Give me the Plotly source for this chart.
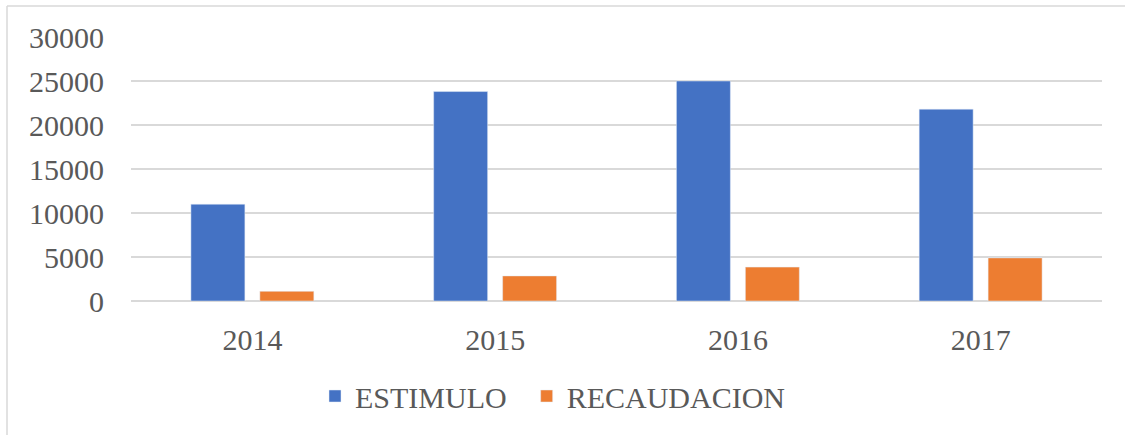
import plotly.graph_objects as go

years = ["2014", "2015", "2016", "2017"]
estimulo = [11000, 23800, 25000, 21800]
recaudacion = [1100, 2850, 3850, 4900]
y_ticks = [0, 5000, 10000, 15000, 20000, 25000, 30000]

W, H = 1125, 435
ml, mr, mt, mb = 131, 23, 37, 134
pw, ph = W - ml - mr, H - mt - mb

def px_x(p):
    return (p - ml) / pw

def px_y(p):
    return 1 - (p - mt) / ph

font_family = "Liberation Serif, Times New Roman, serif"
txt_color = "#595959"

fig = go.Figure()
fig.add_trace(go.Bar(name="ESTIMULO\u00a0\u00a0", x=years, y=estimulo, marker_color="#4472C4"))
fig.add_trace(go.Bar(name="RECAUDACION", x=years, y=recaudacion, marker_color="#ED7D31"))

fig.update_layout(
    width=W, height=H,
    margin=dict(l=ml, r=mr, t=mt, b=mb, pad=0),
    paper_bgcolor="white", plot_bgcolor="white",
    barmode="group", bargap=0.432, bargroupgap=0.217,
    font=dict(family=font_family, size=30, color=txt_color),
    showlegend=True,
    legend=dict(orientation="h", x=px_x(315), xanchor="left", y=px_y(396), yanchor="middle",
                font=dict(family=font_family, size=30, color=txt_color),
                bgcolor="rgba(0,0,0,0)", itemclick=False),
    xaxis=dict(showgrid=False, showline=False, ticks="", ticklabelstandoff=18,
               tickfont=dict(family=font_family, size=30, color=txt_color)),
    yaxis=dict(range=[0, 30000], tickvals=y_ticks, ticktext=[str(v) for v in y_ticks],
               showgrid=True, gridcolor="#d9d9d9", gridwidth=1.5,
               zeroline=True, zerolinecolor="#d9d9d9", zerolinewidth=1.5,
               showline=False, ticks="", ticklabelstandoff=26,
               tickfont=dict(family=font_family, size=30, color=txt_color)),
    shapes=[
        dict(type="line", xref="paper", yref="paper", x0=px_x(7), x1=px_x(7), y0=px_y(6), y1=px_y(435),
             line=dict(color="#d9d9d9", width=1.5)),
        dict(type="line", xref="paper", yref="paper", x0=px_x(7), x1=px_x(1125), y0=px_y(6), y1=px_y(6),
             line=dict(color="#d9d9d9", width=1.5)),
    ],
)

fig.write_html("out.html", config={"displayModeBar": False},
               post_script="document.body.style.margin='0';")
